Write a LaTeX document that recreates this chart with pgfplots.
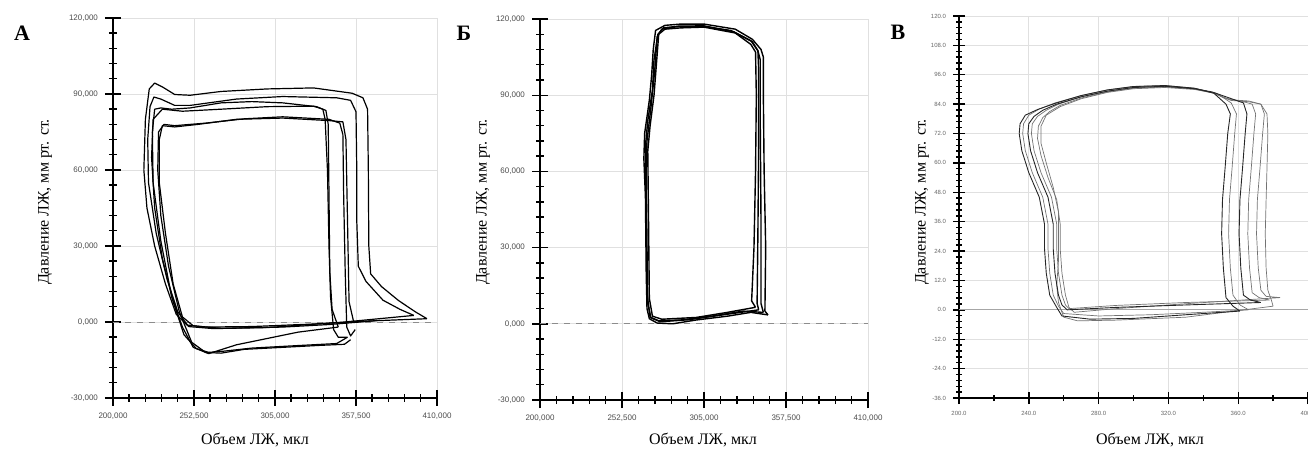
\documentclass[border=0pt]{standalone}
\usepackage{pgfplots}
\pgfplotsset{compat=1.18}
\usepackage{fontspec}
\setmainfont{Liberation Serif}
\newfontfamily\tickfont{Liberation Sans}

\pgfplotsset{
  pv/.style={
    scale only axis,
    axis x line*=bottom, axis y line*=left,
    axis line style={line width=0.9pt},
    tick align=center,
    major tick length=8pt, minor tick length=4pt,
    every tick/.style={black, line width=0.7pt},
    grid=major, major grid style={black!12, line width=0.4pt},
    ticklabel style={font=\tickfont\fontsize{4}{5}\selectfont, text=black!70},
    clip=false,
  },
  loopA/.style={black, line width=0.6pt, no markers, line join=round},
  loopB/.style={black, line width=0.7pt, no markers, line join=round},
  loopV/.style={black!55, line width=0.35pt, no markers, line join=round},
}

\begin{document}
\begin{tikzpicture}
\useasboundingbox (0,0) rectangle (654pt,225pt);

% ---------- A ----------
\begin{axis}[pv, at={(56.5pt,26pt)}, anchor=south west,
  width=162pt, height=190pt,
  xmin=200, xmax=410, ymin=-30, ymax=120,
  xtick={200,252.5,305,357.5,410},
  xticklabels={{200,000},{252,500},{305,000},{357,500},{410,000}},
  ytick={-30,0,30,60,90,120},
  yticklabels={{-30,000},{0,000},{30,000},{60,000},{90,000},{120,000}},
  minor x tick num=4, minor y tick num=4]
\addplot[black!45, dashed, line width=0.4pt] coordinates {(200,0) (410,0)};
\addplot[loopA] coordinates {(403.5,1.3) (396,4) (385,8.5) (374,14) (367,19) (365.8,30) (365.5,60) (365,84) (362,88.5) (355,90.3) (330,92.4) (300,92) (270,91) (250,89.5) (240,89.8) (232,92.8) (227,94.3) (223.5,92) (221,80) (220,60) (222,45) (227,30) (234,15) (241,3) (248,-1.2) (260,-2) (290,-1.8) (330,-0.8) (370,0.5) (403.5,1.3)};
\addplot[loopA] coordinates {(395,2.6) (386,5) (375,8.6) (364,16) (359,22) (358,40) (358,60) (357.5,83) (354,87.5) (345,88.5) (310,89) (280,88) (250,85.5) (240,85.5) (231,88) (226.5,88.8) (224,85) (222.5,72) (223,55) (228,35) (235,17) (242,4) (249,-1.8) (265,-2.6) (300,-2.2) (350,0) (395,2.6)};
\addplot[loopA] coordinates {(352,-6) (346,-6) (343,-3) (341,10) (340,30) (339,60) (337.5,80) (336,84) (330,85.2) (300,85) (270,84) (245,83.2) (232,84) (226,80) (225,65) (227,45) (232,25) (239,8) (246,-5) (254,-10.5) (262,-12) (272,-11.5) (290,-10.3) (320,-9.3) (345,-8.5) (352,-6)};
\addplot[loopA] coordinates {(357,-3) (354,-5.5) (351.5,-2) (350.5,20) (349.5,50) (349,74) (347,78.5) (340,80) (310,81) (285,80.2) (260,78.5) (240,77.5) (233,78) (229.5,75) (229,60) (231,42) (236,22) (243,4) (251,-8) (260,-12) (270,-12.3) (285,-10.8) (310,-10) (335,-9.2) (350,-8.8) (354,-7)};
\addplot[loopA] coordinates {(370,0.5) (356,0) (353,8) (352,40) (351,72) (349,79) (340,79.5) (310,80.5) (280,80) (255,78) (240,77) (232,77.5) (230,72) (230,55) (234,35) (239,15) (245,2) (252,-1.5) (270,-2.5) (310,-2) (340,-1) (370,0.5)};
\addplot[loopA] coordinates {(346,-2) (342,5) (340.5,20) (340,50) (339.5,78) (338,83.5) (332,85) (310,86.5) (290,87) (270,86.5) (250,84.5) (238,84) (231,84.5) (227,84) (225.5,75) (226,55) (231,32) (238,10) (245,-2) (252,-10) (262,-12.5) (280,-9) (300,-6.5) (320,-4) (346,-2)};
\end{axis}

% ---------- Б ----------
\begin{axis}[pv, at={(270pt,25pt)}, anchor=south west,
  width=164pt, height=190.5pt,
  xmin=200, xmax=410, ymin=-30, ymax=120,
  xtick={200,252.5,305,357.5,410},
  xticklabels={{200,000},{252,500},{305,000},{357,500},{410,000}},
  ytick={-30,0,30,60,90,120},
  yticklabels={{-30,000},{0,000},{30,000},{60,000},{90,000},{120,000}},
  minor x tick num=4, minor y tick num=4]
\addplot[black!45, dashed, line width=0.4pt] coordinates {(200,0) (410,0)};
\addplot[loopB] coordinates {(346,3.5) (344,5) (344.5,30) (343.5,60) (343,90) (343,105) (341.5,108) (336,112) (325,116) (305,118) (290,118) (280,117.5) (274,115.5) (272.5,108) (271.5,98) (270,88) (267,75) (266.5,65) (267.5,50) (268,20) (268.5,6) (270,2) (275,0.3) (285,0) (300,1.5) (320,3) (335,4.5) (346,3.5)};
\addplot[loopB] coordinates {(343,4.5) (341.5,8) (341.5,40) (341,80) (341,104) (339.5,107.5) (335,111.5) (322,115.5) (305,117) (288,117) (278,116) (275,113) (273.5,100) (271,85) (268.5,72) (268,60) (268.5,30) (269,8) (271,2.5) (276,1.2) (290,1.5) (310,3) (330,5) (343,4.5)};
\addplot[loopB] coordinates {(338,6.5) (335.5,9) (337,30) (338,60) (338.5,90) (338,107) (335,110) (325,114.5) (305,116.8) (290,116.5) (280,116) (276,114) (274.5,102) (273,90) (270.5,78) (269,68) (269.5,40) (270,10) (272,3) (278,1.8) (300,2.5) (320,4.5) (338,6.5)};
\addplot[loopB] coordinates {(340,5.5) (339,8) (339.5,35) (340,70) (340,100) (339.5,107.5) (336,111) (324,115) (305,117.3) (289,117.2) (279,116.5) (275.5,114) (273,104) (272,92) (269,80) (267.5,70) (268,45) (268.5,12) (270.5,2.5) (277,0.8) (295,1.6) (318,3.6) (340,5.5)};
\end{axis}

% ---------- В ----------
\begin{axis}[pv, at={(479.5pt,26pt)}, anchor=south west,
  width=174.5pt, height=191pt,
  xmin=200, xmax=400, ymin=-36, ymax=120,
  xtick={200,240,280,320,360,400},
  xticklabels={200.0,240.0,280.0,320.0,360.0,400.0},
  ytick={-36,-24,-12,0,12,24,36,48,60,72,84,96,108,120},
  yticklabels={-36.0,-24.0,-12.0,0.0,12.0,24.0,36.0,48.0,60.0,72.0,84.0,96.0,108.0,120.0},
  minor x tick num=1, minor y tick num=4,
  major tick length=6pt, minor tick length=3pt,
  ticklabel style={font=\tickfont\fontsize{3}{4}\selectfont, text=black!60}]
\addplot[black!35, line width=0.4pt] coordinates {(200,0) (400,0)};
\addplot[loopV] coordinates {(366,0) (361,2) (357,6) (355.5,17) (354.5,31) (355,45) (356.5,58) (358,72) (359,80) (356,84.5) (348,88.3) (335,90.5) (318,91.6) (300,91.2) (285,89.8) (270,87.5) (255,84.5) (246,82) (240,79.5) (237,76) (236.5,72) (238,65) (242,56) (248,46) (251,35) (251,25) (252,15) (254,6) (257,1.5) (260,-1.5) (280,-2.5) (310,-2) (340,-1) (366,0)};
\addplot[loopV] coordinates {(378,4) (372,5) (368,7) (366.5,17) (365.5,31) (366,45) (367.5,58) (369,72) (370,80) (368,84) (362,85.2) (352,86.5) (345,88.8) (335,90.3) (318,91.3) (300,90.8) (285,89.3) (270,87) (257,84) (250,81.5) (245,79) (242,76) (241.5,72) (243,65) (247,56) (253,46) (256,35) (256,25) (257,15) (259,6) (261,2) (263,0.5) (290,1.8) (330,3) (378,4)};
\addplot[loopV] coordinates {(384,5) (376,5.5) (373,8) (371.5,17) (370.5,31) (371,45) (372.5,58) (374,72) (375,80) (373,84) (366,85.3) (355,85.8) (346,88.5) (335,90.2) (318,91) (300,90.5) (285,89) (270,86.5) (258,83.5) (252,81) (248,78.5) (245.5,75) (245,70) (247,63) (251,54) (256,45) (258,35) (258,25) (259,15) (261,6) (263,1) (266,-1) (290,0.5) (330,2.5) (384,5)};
\addplot[loopV] coordinates {(380,1.5) (379,4) (377,8) (376,17) (375.5,31) (376,45) (376.5,58) (377,72) (376.5,80) (373,84) (366,85) (356,85.5) (346,88.5) (335,90) (318,90.8) (300,90.3) (285,88.8) (270,86.2) (258,83) (250,79.5) (247,75) (247,68) (250,60) (254,50) (257,40) (257,30) (257,20) (256,10) (257,3) (260,-3) (268,-4.5) (290,-4.2) (330,-3) (380,1.5)};
\addplot[loopV, black!85, line width=0.45pt] coordinates {(361,-0.5) (357,1.5) (353,5) (351.5,17) (350.5,31) (351,45) (352.5,58) (354,72) (355.5,80) (353,84) (346,88.5) (335,90.5) (318,91.6) (300,91.2) (285,89.8) (270,87.5) (255,84.3) (245,81.8) (238,79.5) (235,76) (234.5,72) (236,65) (240,56) (246,46) (249,35) (249,25) (250,15) (252,6) (256,1) (259,-2.5) (275,-3.8) (300,-3.5) (330,-2) (361,-0.5)};
\addplot[loopV, black!85, line width=0.45pt] coordinates {(373,3) (367,4) (363,6) (361.5,17) (360.5,31) (361,45) (362.5,58) (364,72) (365,80) (363,84.5) (355,86.5) (345,89) (335,90.3) (318,91.3) (300,90.8) (285,89.3) (270,87) (256,84) (248,81.5) (243,79) (240,76) (239.5,72) (241,65) (245,56) (251,46) (254,35) (254,25) (255,15) (257,6) (259,2) (262,0) (290,1) (330,2) (373,3)};
\end{axis}

% panel letters and axis titles
\node[font=\bfseries\fontsize{11}{12}\selectfont] at (11pt,208.5pt) {А};
\node[font=\bfseries\fontsize{11}{12}\selectfont] at (232pt,208.5pt) {Б};
\node[font=\bfseries\fontsize{11}{12}\selectfont] at (449pt,209pt) {В};
\node[rotate=90, font=\fontsize{8}{9}\selectfont] at (22.5pt,124pt) {Давление ЛЖ, мм рт. ст.};
\node[rotate=90, font=\fontsize{8}{9}\selectfont] at (241.5pt,124pt) {Давление ЛЖ, мм рт. ст.};
\node[rotate=90, font=\fontsize{8}{9}\selectfont] at (461pt,124pt) {Давление ЛЖ, мм рт. ст.};
\node[font=\fontsize{8}{9}\selectfont] at (127.5pt,5pt) {Объем ЛЖ, мкл};
\node[font=\fontsize{8}{9}\selectfont] at (351.5pt,5pt) {Объем ЛЖ, мкл};
\node[font=\fontsize{8}{9}\selectfont] at (575pt,5pt) {Объем ЛЖ, мкл};
\end{tikzpicture}
\end{document}
